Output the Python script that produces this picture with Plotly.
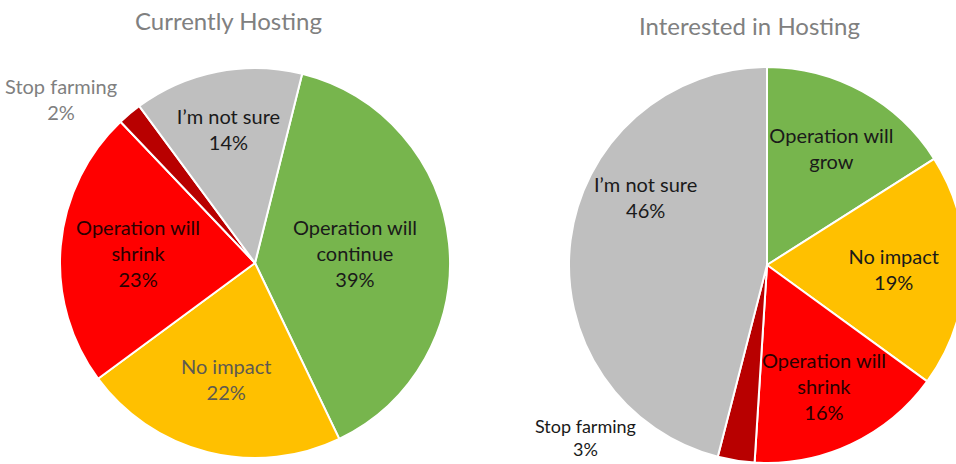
import plotly.graph_objects as go

# Data
left_title = "Currently Hosting"
left_labels = ["Operation will continue", "No impact", "Operation will shrink", "Stop farming", "I’m not sure"]
left_text = ["Operation will<br>continue<br>39%", "No impact<br>22%", "Operation will<br>shrink<br>23%", "Stop farming<br>2%", "I’m not sure<br>14%"]
left_values = [39, 22, 23, 2, 14]

right_title = "Interested in Hosting"
right_labels = ["Operation will grow", "No impact", "Operation will shrink", "Stop farming", "I’m not sure"]
right_text = ["Operation will<br>grow", "No impact<br>19%", "Operation will<br>shrink<br>16%", "Stop farming<br>3%", "I’m not sure<br>46%"]
right_values = [16, 19, 16, 3, 46]

left_colors = ["#77B54D", "#FFC000", "#FF0000", "#B80000", "#BFBFBF"]
right_colors = ["#77B54D", "#FFC000", "#FF0000", "#B80000", "#BFBFBF"]

W, H = 980, 464
FONT = "Lato, 'Open Sans', sans-serif"

def dom(x0, x1, y0, y1):
    return dict(x=[x0 / W, x1 / W], y=[(H - y1) / H, (H - y0) / H])

fig = go.Figure()
fig.add_trace(go.Pie(
    labels=left_labels, values=left_values, text=left_text,
    texttemplate="%{text}", textinfo="text",
    sort=False, direction="clockwise", rotation=14,
    marker=dict(colors=left_colors, line=dict(color="white", width=2)),
    textposition=["inside", "inside", "inside", "outside", "inside"],
    insidetextorientation="horizontal", automargin=False,
    textfont=dict(family=FONT, size=20,
                  color=["#1a1a1a", "#5e5a50", "#2a0000", "#808080", "#1a1a1a"]),
    domain=dom(60, 450, 68, 458),
    showlegend=False, hoverinfo="label+percent",
))
fig.add_trace(go.Pie(
    labels=right_labels, values=right_values, text=right_text,
    texttemplate="%{text}", textinfo="text",
    sort=False, direction="clockwise", rotation=0,
    marker=dict(colors=right_colors, line=dict(color="white", width=2)),
    textposition=["inside", "inside", "inside", "none", "none"],
    insidetextorientation="horizontal", automargin=False,
    textfont=dict(family=FONT, size=20,
                  color=["#1a1a1a", "#1a1a1a", "#2a0000", "#1a1a1a", "#1a1a1a"]),
    domain=dom(569, 965, 67, 463),
    showlegend=False, hoverinfo="label+percent",
))

fig.update_layout(
    width=W, height=H,
    margin=dict(l=0, r=0, t=0, b=0, autoexpand=False),
    paper_bgcolor="white",
    uniformtext=dict(minsize=20, mode="show"),
    annotations=[
        dict(text=left_title, x=228 / W, y=(H - 20) / H, xref="paper", yref="paper",
             xanchor="center", yanchor="middle",
             showarrow=False, font=dict(family=FONT, size=24, color="#808080")),
        dict(text=right_title, x=749 / W, y=(H - 25) / H, xref="paper", yref="paper",
             xanchor="center", yanchor="middle",
             showarrow=False, font=dict(family=FONT, size=24, color="#808080")),
        dict(text=right_text[3], x=585 / W, y=(H - 437) / H, xref="paper", yref="paper",
             xanchor="center", yanchor="middle",
             showarrow=False, font=dict(family=FONT, size=18, color="#1a1a1a")),
        dict(text=right_text[4], x=645 / W, y=(H - 197) / H, xref="paper", yref="paper",
             xanchor="center", yanchor="middle",
             showarrow=False, font=dict(family=FONT, size=20, color="#1a1a1a")),
    ],
)

fig.write_html("out.html", config={"displayModeBar": False},
               post_script="document.body.style.margin='0';document.body.style.overflow='hidden';")
